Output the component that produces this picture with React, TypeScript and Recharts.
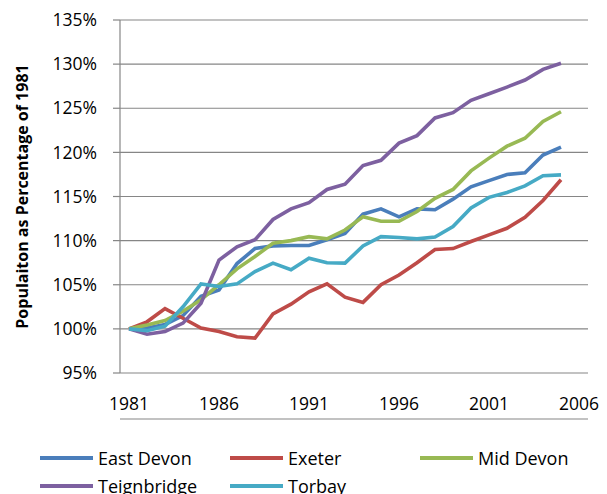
import React from "react";
import { LineChart, Line, XAxis, YAxis, CartesianGrid, Legend } from "recharts";

const years = [1981, 1982, 1983, 1984, 1985, 1986, 1987, 1988, 1989, 1990, 1991, 1992, 1993, 1994, 1995, 1996, 1997, 1998, 1999, 2000, 2001, 2002, 2003, 2004, 2005, 2006];

const eastDevon = [100, 100.1, 100.5, 101.5, 103.7, 104.4, 107.4, 109.1, 109.4, 109.45, 109.45, 110.1, 110.8, 113.0, 113.6, 112.7, 113.6, 113.5, 114.7, 116.1, 116.8, 117.5, 117.7, 119.7, 120.6, null];
const exeter = [100, 100.8, 102.3, 101.2, 100.1, 99.7, 99.1, 98.95, 101.7, 102.8, 104.2, 105.1, 103.6, 103.0, 105.0, 106.1, 107.5, 109.0, 109.1, 109.9, 110.65, 111.4, 112.65, 114.55, 116.9, null];
const midDevon = [100, 100.45, 100.95, 102.0, 103.3, 105.0, 106.8, 108.2, 109.7, 110.0, 110.45, 110.2, 111.2, 112.7, 112.2, 112.2, 113.3, 114.8, 115.8, 117.9, 119.35, 120.7, 121.6, 123.5, 124.6, null];
const teignbridge = [100, 99.4, 99.7, 100.65, 102.9, 107.8, 109.3, 110.1, 112.4, 113.6, 114.3, 115.8, 116.4, 118.5, 119.1, 121.05, 121.9, 123.9, 124.5, 125.9, 126.65, 127.4, 128.2, 129.4, 130.1, null];
const torbay = [100, 99.8, 100.3, 102.5, 105.1, 104.8, 105.1, 106.5, 107.45, 106.7, 108.0, 107.5, 107.45, 109.4, 110.45, 110.35, 110.2, 110.4, 111.6, 113.7, 114.9, 115.45, 116.2, 117.35, 117.45, null];

const yTicks = [95, 100, 105, 110, 115, 120, 125, 130, 135];
const xLabelTicks = [1981, 1986, 1991, 1996, 2001, 2006];
const xBoundaryTicks = [...years.map((y) => y - 0.5), years[years.length - 1] + 0.5];

const series = [
  { key: "eastDevon", name: "East Devon", color: "#4A7EBB", values: eastDevon },
  { key: "exeter", name: "Exeter", color: "#BE4B48", values: exeter },
  { key: "midDevon", name: "Mid Devon", color: "#98B954", values: midDevon },
  { key: "teignbridge", name: "Teignbridge", color: "#7D60A0", values: teignbridge },
  { key: "torbay", name: "Torbay", color: "#46AAC5", values: torbay },
];

const data = years.map((year, i) => {
  const row: any = { year };
  series.forEach((s) => {
    row[s.key] = s.values[i];
  });
  return row;
});

const FONT = "'Open Sans', sans-serif";
const GRAY = "#868686";

const LegendContent = (props: any) => {
  const payload = props.payload || [];
  return (
    <div
      style={{
        display: "grid",
        gridTemplateColumns: "190px 190px 190px",
        gridAutoRows: "28px",
        paddingLeft: 40,
        paddingTop: 19,
        fontFamily: FONT,
        fontSize: 18,
        color: "#000",
      }}
    >
      {payload.map((p: any) => (
        <div key={p.value} style={{ display: "flex", alignItems: "center", whiteSpace: "nowrap" }}>
          <svg width={53} height={8} style={{ marginRight: 5, flexShrink: 0 }}>
            <line x1={0} y1={4} x2={53} y2={4} stroke={p.color} strokeWidth={4} />
          </svg>
          <span>{p.value}</span>
        </div>
      ))}
    </div>
  );
};

export default function App() {
  return (
    <div style={{ position: "absolute", left: 0, top: 0, width: 607, height: 494, background: "#fff", overflow: "hidden" }}>
      <LineChart width={607} height={494} data={data} margin={{ top: 20, right: 19, bottom: 0, left: 0 }}>
        <CartesianGrid horizontal={true} vertical={false} stroke={GRAY} strokeWidth={1.2} />
        <XAxis
          xAxisId="marks"
          dataKey="year"
          type="number"
          domain={[1980.5, 2006.5]}
          ticks={xBoundaryTicks}
          tick={false}
          tickSize={5}
          height={6}
          axisLine={{ stroke: GRAY, strokeWidth: 1.2 }}
          tickLine={{ stroke: GRAY, strokeWidth: 1.2 }}
          interval={0}
          allowDataOverflow
        />
        <XAxis
          xAxisId="labels"
          dataKey="year"
          type="number"
          domain={[1980.5, 2006.5]}
          ticks={xLabelTicks}
          axisLine={false}
          tickLine={false}
          tickSize={0}
          tickMargin={25}
          height={46}
          interval={0}
          tick={{ fill: "#000", fontSize: 17.5, fontFamily: FONT }}
          allowDataOverflow
        />
        <YAxis
          type="number"
          domain={[95, 135]}
          ticks={yTicks}
          interval={0}
          width={120}
          tickSize={7}
          tickMargin={16}
          tickFormatter={(v: number) => `${v}%`}
          tick={{ fill: "#000", fontSize: 17.5, fontFamily: FONT }}
          axisLine={{ stroke: GRAY, strokeWidth: 1.2 }}
          tickLine={{ stroke: GRAY, strokeWidth: 1.2 }}
          label={{
            content: (p: any) => {
              const vb = p.viewBox || { x: 0, y: 20, height: 353 };
              const cx = vb.x + 22;
              const cy = vb.y + vb.height / 2;
              return (
                <text
                  x={cx}
                  y={cy}
                  transform={`rotate(-90, ${cx}, ${cy})`}
                  textAnchor="middle"
                  dominantBaseline="central"
                  fontFamily={FONT}
                  fontWeight="bold"
                  fontSize={16}
                  fill="#000"
                >
                  Populaiton as Percentage of 1981
                </text>
              );
            },
          }}
        />
        {series.map((s) => (
          <Line
            key={s.key}
            xAxisId="marks"
            dataKey={s.key}
            name={s.name}
            type="linear"
            stroke={s.color}
            strokeWidth={3.6}
            dot={false}
            activeDot={false}
            isAnimationActive={false}
            legendType="line"
          />
        ))}
        <Legend verticalAlign="bottom" align="left" wrapperStyle={{ height: 69, width: 607, left: 0 }} content={LegendContent} />
      </LineChart>
    </div>
  );
}
